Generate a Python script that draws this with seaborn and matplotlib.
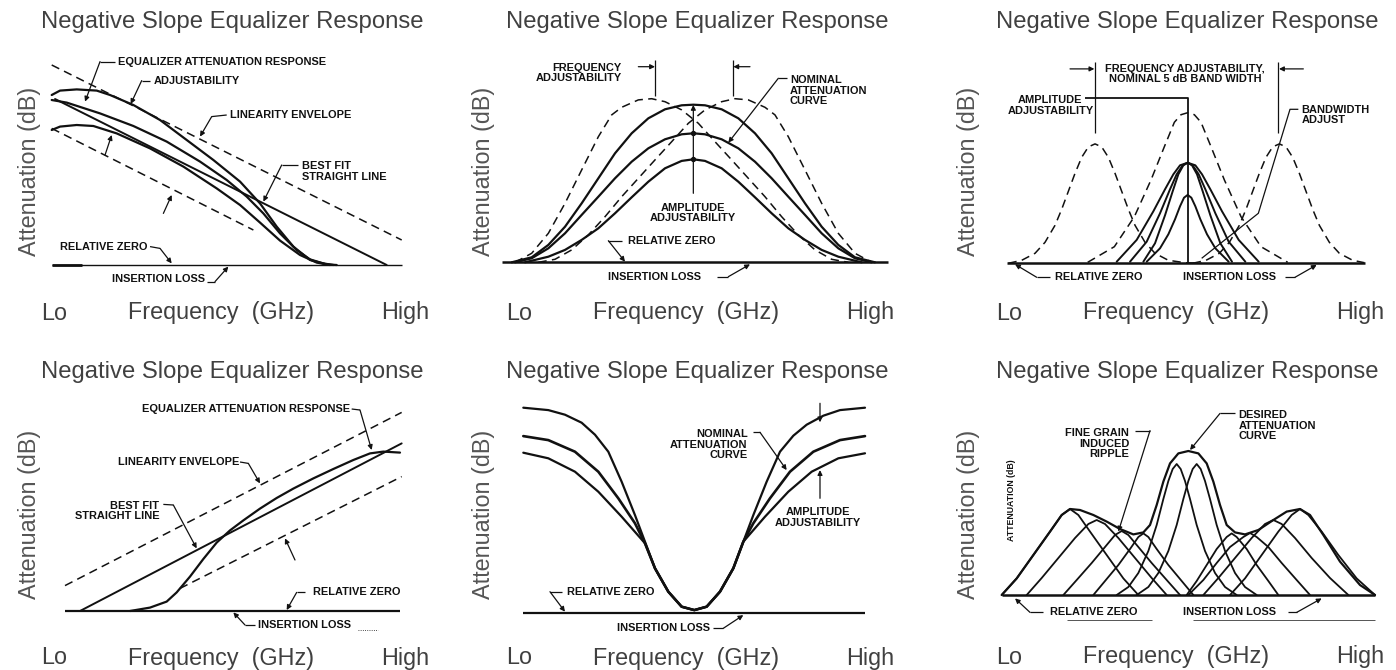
import matplotlib
matplotlib.use("Agg")
import matplotlib.pyplot as plt
import seaborn as sns

# ---------------- data (relative frequency, relative attenuation) ----------------
# panel 1 - negative slope with linearity envelope
p1_env_hi_f = [0, 105]
p1_env_hi_a = [100, 12.5]
p1_env_lo_f = [0, 60.5]
p1_env_lo_a = [68.3, 17.5]
p1_fit_f = [1, 100.5]
p1_fit_a = [83, 0]
p1_top_f = [0, 2.5, 7.5, 13.5, 17.5, 24.5, 32.5, 40.5, 48.5, 56.5, 62.5, 67.5, 72.5, 77.5, 82.5, 85.5]
p1_top_a = [85, 87.2, 87.8, 87.2, 85, 80, 72.5, 62.5, 52.5, 41.7, 30.8, 19.2, 9.2, 2.5, 0.3, 0]
p1_mid_f = [0, 4.5, 14.5, 24.5, 34.5, 44.5, 52.5, 58.5, 63.5, 68.5, 73.5, 77.5, 81.5, 84.5]
p1_mid_a = [82.5, 81.2, 75.8, 69.5, 61.7, 51.7, 42.5, 34.2, 25.8, 15.8, 7.5, 2.8, 0.8, 0]
p1_low_f = [0, 2.5, 7.5, 12.5, 19.5, 29.5, 39.5, 49.5, 56.5, 62.5, 68.5, 74.5, 79.5, 83.5]
p1_low_a = [67.5, 69.2, 70, 69.5, 65.8, 58.3, 49.2, 38.3, 30, 21.2, 12.2, 5, 1.2, 0]

# panel 2 - band-pass hump with frequency / amplitude adjustability
p2_top_f = [3, 9, 14, 19, 24, 29, 34, 39, 44, 49, 54, 57.5, 61, 66, 71, 76, 81, 86, 91, 96, 101, 106, 112]
p2_top_a = [0, 2.5, 8.7, 17.8, 29.5, 42, 54.5, 64.5, 72, 76.5, 78.5, 78.8, 78.5, 76.5, 72, 64.5, 54.5, 42,
            29.5, 17.8, 8.7, 2.5, 0]
p2_mid_f = [4, 9, 14, 19, 24, 29, 34, 39, 44, 49, 54, 57.5, 61, 66, 71, 76, 81, 86, 91, 96, 101, 106, 111]
p2_mid_a = [0, 2, 7, 14.5, 23.7, 32.8, 42, 50.3, 57, 61.5, 64, 64.5, 64, 61.5, 57, 50.3, 42, 32.8, 23.7,
            14.5, 7, 2, 0]
p2_low_f = [7, 14, 19, 24, 29, 34, 39, 44, 49, 54, 57.5, 61, 66, 71, 76, 81, 86, 91, 96, 101, 108]
p2_low_a = [0, 2.8, 6.2, 11.2, 17, 24.5, 32.5, 40.3, 47, 50.7, 51.5, 50.7, 47, 40.3, 32.5, 24.5, 17, 11.2,
            6.2, 2.8, 0]
p2_shl_f = [4, 9, 14, 19, 24, 29, 33, 36, 41, 45, 49, 54, 59, 64, 69, 74, 79, 84, 89, 94, 99, 104]
p2_shl_a = [0, 4.5, 14.5, 29.5, 46.2, 62.8, 73.7, 77.5, 81.2, 81.8, 80.3, 76.2, 69.5, 60.3, 51.2, 42, 32.8,
            22.8, 13.7, 6.2, 1.5, 0]
p2_shr_f = [11, 16, 21, 26, 31, 36, 41, 46, 51, 56, 61, 66, 70, 74, 79, 82, 86, 91, 96, 101, 106, 111]
p2_shr_a = [0, 1.5, 6.2, 13.7, 22.8, 32.8, 42, 51.2, 60.3, 69.5, 76.2, 80.3, 81.8, 81.2, 77.5, 73.7, 62.8,
            46.2, 29.5, 14.5, 4.5, 0]

# panel 3 - narrow band notch family
p3_left_f = [0.5, 4.5, 8.5, 11.5, 14.5, 16.5, 18.5, 20.5, 22.5, 24.5, 26.5, 28.5, 30.5, 32.5, 34.5, 36.5,
             38.5, 41.5, 44.5, 48.5, 53.5, 58.5]
p3_left_a = [0, 1.5, 5, 10.5, 19, 27, 36, 45, 53, 58.2, 59.7, 58.2, 53, 45, 36, 27, 19, 10.5, 5, 1.5, 0.3, 0]
p3_tall_f = [24.3, 32.3, 38.3, 43.3, 47.3, 50.3, 52.3, 54.3, 56.3, 58.3, 61.3, 65.3, 70.3, 76.3, 84.3]
p3_tall_a = [0.5, 8.3, 23.3, 41.7, 58.3, 70.5, 74.3, 75.3, 74.3, 70.5, 58.3, 41.7, 23.3, 8.3, 0.5]
p3_right_f = [55.8, 59.8, 63.8, 66.8, 69.8, 71.8, 73.8, 75.8, 77.8, 79.8, 81.8, 83.8, 85.8, 87.8, 89.8,
              91.8, 93.8, 96.8, 99.8, 103.8, 107.3]
p3_right_a = [0, 1.5, 5, 10.5, 19, 27, 36, 45, 53, 58.2, 59.7, 58.2, 53, 45, 36, 27, 19, 10.5, 5, 1.5, 0.3]
p3_wide_f = [33, 39, 44, 47.5, 50, 52, 54.3, 56.6, 58.6, 61.1, 64.6, 69.6, 75.6]
p3_wide_a = [0.8, 11.7, 26, 37, 44.5, 49, 50.3, 49, 44.5, 37, 26, 11.7, 0.8]
p3_med_f = [37, 42, 46, 49, 51, 52.8, 54.3, 55.8, 57.6, 59.6, 62.6, 66.6, 71.6]
p3_med_a = [0.8, 10.8, 25, 37, 44.5, 49, 50.3, 49, 44.5, 37, 25, 10.8, 0.8]
p3_narrow_f = [41, 44.5, 47.5, 49.8, 51.5, 53, 54.3, 55.6, 57.1, 58.8, 61.1, 64.1, 67.6]
p3_narrow_a = [0.8, 10, 24, 36, 44.5, 49, 50.3, 49, 44.5, 36, 24, 10, 0.8]
p3_small_f = [42, 46, 48.5, 50.5, 52, 53.2, 54.3, 55.4, 56.6, 58.1, 60.1, 62.6, 66.6]
p3_small_a = [0.8, 7.5, 14.5, 22, 28.5, 32.8, 34.2, 32.8, 28.5, 22, 14.5, 7.5, 0.8]

# panel 4 - positive slope with linearity envelope
p4_env_hi_f = [0, 101]
p4_env_hi_a = [12.7, 99.3]
p4_env_lo_f = [34.5, 101]
p4_env_lo_a = [11.3, 67.2]
p4_fit_f = [4.5, 101]
p4_fit_a = [0, 83.8]
p4_resp_f = [19.5, 25.5, 30.5, 33.5, 37.5, 41.5, 45.5, 49.5, 53.5, 58.5, 63.5, 68.5, 74.5, 80.5, 86.5, 91.5,
             95.5, 100.5]
p4_resp_a = [0, 1.7, 4.7, 9.3, 17.2, 26, 34.2, 40.3, 45.3, 51.2, 56.5, 61.2, 66.3, 71, 75.5, 78.8, 79.7, 79.2]

# panel 5 - notch with amplitude adjustability
p5_top_f = [0, 7.5, 12.5, 17.5, 21.5, 25.5, 29.5, 33.5, 36.5, 39.5, 43.5, 47.5, 51.3, 55, 59, 63, 66, 69,
            73, 77, 81, 85, 90, 95, 102.5]
p5_top_a = [102.5, 101.3, 99, 95, 89, 80.5, 65.5, 48.8, 35.5, 22.2, 10.5, 3, 1.3, 3, 10.5, 22.2, 35.5, 48.8,
            65.5, 80.5, 88.5, 94, 98.5, 101.3, 102.5]
p5_mid_f = [0, 7.5, 15.5, 22.5, 28.5, 33.5, 36.5, 39.5, 43.5, 47.5, 51.3, 55, 59, 63, 66, 69, 74, 80, 87,
            95, 102.5]
p5_mid_a = [88.3, 86.3, 80.5, 70.5, 57.2, 44.7, 34.7, 22.2, 10.5, 3, 1.3, 3, 10.5, 22.2, 35.5, 44.7, 57.2,
            70.5, 80.5, 86.3, 88.3]
p5_low_f = [0, 7.5, 15.5, 22.5, 29.5, 36.5, 39.5, 43.5, 47.5, 51.3, 55, 59, 63, 66, 72.5, 79.5, 86.5, 94.5,
            102.5]
p5_low_a = [80, 77.2, 70.5, 60.5, 48, 34.7, 22.2, 10.5, 3, 1.3, 3, 10.5, 22.2, 35.5, 48, 60.5, 70.5, 77.2,
            79.7]

# panel 6 - desired curve built from fine grain sections
p6_env_f = [0, 4.5, 9.5, 14.5, 18, 20.5, 23.5, 27.5, 31.5, 35.5, 39.5, 42.5, 44.5, 46.5, 48.5, 50.5, 53, 56,
            59, 61.5, 63.5, 65.5, 67.5, 70, 73, 77, 81.5, 85.5, 89.5, 92.5, 96.5, 101.5, 107.5, 112]
p6_env_a = [0, 8.3, 20, 31.7, 40, 43, 42.5, 40, 36.7, 33, 30.3, 31.3, 35, 45, 56.7, 65.8, 70.8, 72, 70.8,
            65.8, 56.7, 45, 35, 31.3, 30.3, 32.5, 37.5, 41.7, 43, 40, 30, 16.7, 5, 0]
p6_l1_f = [0, 4.5, 9.5, 14.5, 18, 20.5, 23, 26.5, 31.5, 36.5, 41]
p6_l1_a = [0, 8.3, 20, 31.7, 40, 43, 40, 31.7, 20, 8.3, 0]
p6_l2_f = [7.5, 12, 17, 22, 26, 28.5, 31, 35, 40, 45, 49.5]
p6_l2_a = [0, 8.5, 18.5, 28.5, 35.5, 37.5, 35.5, 28.5, 18.5, 8.5, 0]
p6_l3_f = [18.5, 22.5, 27, 31, 34, 36, 38, 41, 45, 49.5, 53.5]
p6_l3_a = [0, 7.5, 16, 24, 30, 32, 30, 24, 16, 7.5, 0]
p6_l4_f = [27.5, 31, 35, 38.5, 41, 42.5, 44, 46.5, 50, 54, 57.5]
p6_l4_a = [0, 7, 15, 23, 29, 30.8, 29, 23, 15, 7, 0]
p6_t1_f = [34.5, 38, 41, 44, 46.5, 48.5, 50, 51.3, 52.5, 53.7, 55, 56.5, 58.5, 61, 64, 67, 70.5]
p6_t1_a = [0, 4, 11, 22, 35, 48, 57, 63, 65.5, 63, 57, 48, 35, 22, 11, 4, 0]
p6_t2_f = [40.5, 44, 47, 50, 52.5, 54.5, 56, 57.3, 58.5, 59.7, 61, 62.5, 64.5, 67, 70, 73, 76.5]
p6_t2_a = [0, 4, 11, 22, 35, 48, 57, 63, 65.5, 63, 57, 48, 35, 22, 11, 4, 0]
p6_r4_f = [55.5, 58.5, 61.5, 64.5, 67.5, 69, 70.5, 73.5, 76.5, 80, 83]
p6_r4_a = [0, 7, 15, 23, 29, 30.8, 29, 23, 15, 7, 0]
p6_r3_f = [56, 60.5, 64.5, 68.5, 72.5, 74.5, 76.5, 80, 84, 88.5, 92.5]
p6_r3_a = [0, 7.5, 16, 24, 29, 31, 29, 24, 16, 7.5, 0]
p6_r2_f = [60.5, 65, 70, 75, 79, 81.5, 84, 88, 93, 98.5, 104]
p6_r2_a = [0, 8.5, 18.5, 28.5, 35.5, 37.5, 35.5, 28.5, 18.5, 8.5, 0]
p6_r1_f = [68.5, 73, 78, 83, 87, 89.5, 92, 96, 101, 106.5, 112]
p6_r1_a = [0, 8.3, 20, 31.7, 40, 43, 40, 31.7, 20, 8.3, 0]

TITLE = "Negative Slope Equalizer Response"
YLABEL = "Attenuation (dB)"
XLABELS = ["Lo", "Frequency  (GHz)", "High"]

# ---------------- style ----------------
sns.set_style("white")
plt.rcParams["font.family"] = ["Liberation Sans", "DejaVu Sans"]
INK = "#111111"
GREY = "#404040"
NOTE_FAMILY = ["Liberation Sans Narrow", "Liberation Sans", "DejaVu Sans"]
NOTE_SIZE = 7.9
DASH = (0, (5.5, 3.5))

W, H = 1396, 670
fig = plt.figure(figsize=(W / 100, H / 100), dpi=100)


def panel(left, right, base, xmax):
    ax = fig.add_axes([left / W, 1 - base / H, (right - left) / W, 200 / H])
    ax.set_xlim(0, xmax)
    ax.set_ylim(0, 100)
    ax.set_axis_off()
    return ax


def curve(ax, f, a, dashed=False, lw=1.6):
    sns.lineplot(x=f, y=a, ax=ax, color=INK, lw=lw, sort=False, estimator=None,
                 clip_on=False, linestyle=DASH if dashed else "-")


def line(ax, xs, ys, lw=0.9, ls="-"):
    ax.plot(xs, ys, color=INK, lw=lw, ls=ls, clip_on=False, solid_capstyle="butt")


def leader(ax, xs, ys):
    if len(xs) > 2:
        line(ax, xs[:-1], ys[:-1])
    ax.annotate("", xy=(xs[-1], ys[-1]), xytext=(xs[-2], ys[-2]), annotation_clip=False,
                arrowprops=dict(arrowstyle="-|>", color=INK, lw=0.9, mutation_scale=7,
                                shrinkA=0, shrinkB=0))


def note(ax, x, y, s, ha="left"):
    ax.text(x, y, s, ha=ha, ma=ha, va="center", fontsize=NOTE_SIZE, fontweight="bold",
            family=NOTE_FAMILY, color=INK, linespacing=1.05, clip_on=False)


def baseline(ax, xmax, lw=1.3):
    line(ax, [0, xmax], [0, 0], lw=lw)


def frame_text(title_x, title_y, ylab_x, ylab_y, lo_x, fr_x, hi_x, xl_y):
    fig.text(title_x / W, 1 - title_y / H, TITLE, ha="center", va="center", fontsize=17.2, color=GREY)
    fig.text(ylab_x / W, 1 - ylab_y / H, YLABEL, ha="center", va="center", rotation=90,
             fontsize=16.8, color="#555555")
    for x, s in zip([lo_x, fr_x, hi_x], XLABELS):
        fig.text(x / W, 1 - xl_y / H, s, ha="center", va="center", fontsize=16.8, color=GREY)


# ---------------- panel 1 ----------------
ax = panel(51.7, 401.7, 265, 105)
curve(ax, p1_env_hi_f, p1_env_hi_a, dashed=True, lw=1.1)
curve(ax, p1_env_lo_f, p1_env_lo_a, dashed=True, lw=1.1)
curve(ax, p1_fit_f, p1_fit_a, lw=1.4)
curve(ax, p1_top_f, p1_top_a)
curve(ax, p1_mid_f, p1_mid_a)
curve(ax, p1_low_f, p1_low_a)
baseline(ax, 105, lw=1.0)
line(ax, [0, 9], [0, 0], lw=2.0)
note(ax, 20, 101.3, "EQUALIZER ATTENUATION RESPONSE")
note(ax, 30.5, 92.2, "ADJUSTABILITY")
note(ax, 53.5, 75, "LINEARITY ENVELOPE")
note(ax, 75, 46.7, "BEST FIT\nSTRAIGHT LINE")
note(ax, 2.5, 8.8, "RELATIVE ZERO")
note(ax, 18, -7.2, "INSERTION LOSS")
leader(ax, [19, 14.5, 10], [101.7, 101.7, 81.7])
leader(ax, [29.5, 27, 23.7], [92.2, 92.2, 80.5])
leader(ax, [16, 18], [55, 65])
leader(ax, [52.5, 48, 44.5], [75, 74.2, 64.2])
leader(ax, [33.5, 36], [25.8, 35])
leader(ax, [74, 69, 63.5], [50, 50, 31.7])
leader(ax, [29.5, 32.5, 36], [9.2, 8.3, 0.8])
leader(ax, [46.5, 49, 53], [-8.3, -8.3, -0.8])
frame_text(232, 22, 30, 171, 54, 221, 405, 313)

# ---------------- panel 2 ----------------
ax = panel(501.7, 888.3, 262.3, 116)
curve(ax, p2_shl_f, p2_shl_a, dashed=True, lw=1.1)
curve(ax, p2_shr_f, p2_shr_a, dashed=True, lw=1.1)
curve(ax, p2_top_f, p2_top_a)
curve(ax, p2_mid_f, p2_mid_a)
curve(ax, p2_low_f, p2_low_a)
baseline(ax, 116, lw=1.8)
line(ax, [46, 46], [83.2, 101.2])
line(ax, [69.5, 69.5], [83.2, 101.2])
leader(ax, [41, 46], [97.8, 97.8])
leader(ax, [74.5, 69.5], [97.8, 97.8])
leader(ax, [57.5, 57.5], [34.5, 78.7])
ax.scatter([57.5, 57.5], [64.5, 51.5], s=8, color=INK, zorder=5, clip_on=False)
note(ax, 36, 94.7, "FREQUENCY\nADJUSTABILITY", ha="right")
note(ax, 86.5, 85.8, "NOMINAL\nATTENUATION\nCURVE")
note(ax, 57.5, 24.7, "AMPLITUDE\nADJUSTABILITY", ha="center")
note(ax, 38, 10.8, "RELATIVE ZERO")
note(ax, 32, -7.2, "INSERTION LOSS")
leader(ax, [85.5, 83, 68], [92, 92, 59.8])
leader(ax, [36, 32, 37], [10.8, 10.8, 0.3])
leader(ax, [64.5, 68, 74.5], [-7.2, -7.2, -1])
frame_text(697, 22, 484, 171, 519, 686, 870, 313)

# ---------------- panel 3 ----------------
ax = panel(1006.7, 1365, 263.3, 107.5)
curve(ax, p3_left_f, p3_left_a, dashed=True, lw=1.1)
curve(ax, p3_tall_f, p3_tall_a, dashed=True, lw=1.1)
curve(ax, p3_right_f, p3_right_a, dashed=True, lw=1.1)
curve(ax, p3_wide_f, p3_wide_a, lw=1.4)
curve(ax, p3_med_f, p3_med_a, lw=1.4)
curve(ax, p3_narrow_f, p3_narrow_a, lw=1.4)
curve(ax, p3_small_f, p3_small_a, lw=1.4)
baseline(ax, 107.5, lw=1.8)
line(ax, [23.5, 54.3, 54.3], [82.5, 82.5, 0], lw=1.3)
line(ax, [26.5, 26.5], [65, 100.8])
line(ax, [81.5, 81.5], [65, 100.8])
leader(ax, [19, 26.3], [97.2, 97.2])
leader(ax, [89, 81.7], [97.2, 97.2])
line(ax, [87.5, 85, 75.5, 58.5], [77, 77, 25, 2.5])
note(ax, 53.5, 94.6, "FREQUENCY ADJUSTABILITY,\nNOMINAL 5 dB BAND WIDTH", ha="center")
note(ax, 13.1, 78.9, "AMPLITUDE\nADJUSTABILITY", ha="center")
note(ax, 88.5, 74.2, "BANDWIDTH\nADJUST")
note(ax, 14.5, -7, "RELATIVE ZERO")
note(ax, 53, -7, "INSERTION LOSS")
leader(ax, [13, 9, 2.5], [-7, -7, -0.5])
leader(ax, [83.5, 86.5, 93], [-7, -7, -0.8])
frame_text(1187, 22, 969, 171, 1009, 1176, 1360, 313)

# ---------------- panel 4 ----------------
ax = panel(65, 400, 611, 100.5)
curve(ax, p4_env_hi_f, p4_env_hi_a, dashed=True, lw=1.1)
curve(ax, p4_env_lo_f, p4_env_lo_a, dashed=True, lw=1.1)
curve(ax, p4_fit_f, p4_fit_a, lw=1.4)
curve(ax, p4_resp_f, p4_resp_a)
baseline(ax, 100.5, lw=1.6)
note(ax, 23, 101, "EQUALIZER ATTENUATION RESPONSE")
note(ax, 16, 74.3, "LINEARITY ENVELOPE")
note(ax, 28.3, 50, "BEST FIT\nSTRAIGHT LINE", ha="right")
note(ax, 74.5, 9.3, "RELATIVE ZERO")
note(ax, 58, -7, "INSERTION LOSS")
leader(ax, [86, 88.5, 92], [101, 100.5, 80.5])
leader(ax, [52.5, 55, 58.5], [74.5, 73.8, 63.8])
leader(ax, [29.5, 32.5, 39.5], [53.3, 53, 31.3])
leader(ax, [69, 66], [25.5, 36.3])
leader(ax, [72, 69.5, 66.5], [9.3, 9.3, 0.5])
leader(ax, [57, 54, 50.5], [-7, -7, -0.7])
line(ax, [88, 94], [-9.5, -9.5], lw=0.6, ls=":")
frame_text(232, 372, 30, 514, 54, 221, 405, 658)

# ---------------- panel 5 ----------------
ax = panel(523.3, 865, 612.7, 102.5)
curve(ax, p5_top_f, p5_top_a)
curve(ax, p5_mid_f, p5_mid_a, lw=1.9)
curve(ax, p5_low_f, p5_low_a)
baseline(ax, 102.5, lw=1.6)
note(ax, 67.3, 84.1, "NOMINAL\nATTENUATION\nCURVE", ha="right")
note(ax, 88.5, 47.6, "AMPLITUDE\nADJUSTABILITY", ha="center")
note(ax, 13, 10.5, "RELATIVE ZERO")
note(ax, 28, -7.8, "INSERTION LOSS")
leader(ax, [69, 71, 79], [90.2, 90.2, 71.3])
leader(ax, [89, 89], [104.7, 95.2])
leader(ax, [89, 89], [57.2, 71.3])
leader(ax, [11.5, 8, 12.5], [10.5, 10.5, 0.5])
leader(ax, [57, 60, 66], [-7.8, -7.8, -1.2])
frame_text(697, 372, 484, 514, 519, 686, 870, 658)

# ---------------- panel 6 ----------------
ax = panel(1001.7, 1375, 595, 112)
for f, a in [(p6_l1_f, p6_l1_a), (p6_l2_f, p6_l2_a), (p6_l3_f, p6_l3_a), (p6_l4_f, p6_l4_a),
             (p6_t1_f, p6_t1_a), (p6_t2_f, p6_t2_a), (p6_r4_f, p6_r4_a), (p6_r3_f, p6_r3_a),
             (p6_r2_f, p6_r2_a), (p6_r1_f, p6_r1_a)]:
    curve(ax, f, a, lw=1.3)
curve(ax, p6_env_f, p6_env_a, lw=1.6)
baseline(ax, 112, lw=1.8)
ax.text(3, 47.5, "ATTENUATION (dB)", rotation=90, ha="center", va="center", fontsize=6.3,
        fontweight="bold", family=NOTE_FAMILY, color=INK)
note(ax, 38.3, 75.7, "FINE GRAIN\nINDUCED\nRIPPLE", ha="right")
note(ax, 71, 84.7, "DESIRED\nATTENUATION\nCURVE")
note(ax, 14.5, -8.7, "RELATIVE ZERO")
note(ax, 54.5, -8.7, "INSERTION LOSS")
leader(ax, [40, 44.5, 35], [82.2, 82.2, 31.7])
leader(ax, [70, 65.5, 56.5], [90.8, 90.8, 72.5])
leader(ax, [12.5, 8.5, 4], [-8.7, -8.7, -1.7])
leader(ax, [86, 88.5, 96], [-8.7, -8.7, -1.7])
line(ax, [19.5, 45], [-12.5, -12.5], lw=0.5)
line(ax, [57.5, 112], [-12.5, -12.5], lw=0.5)
frame_text(1187, 372, 969, 514, 1009, 1176, 1360, 657)

fig.savefig("out.png", dpi=100, facecolor="white")
